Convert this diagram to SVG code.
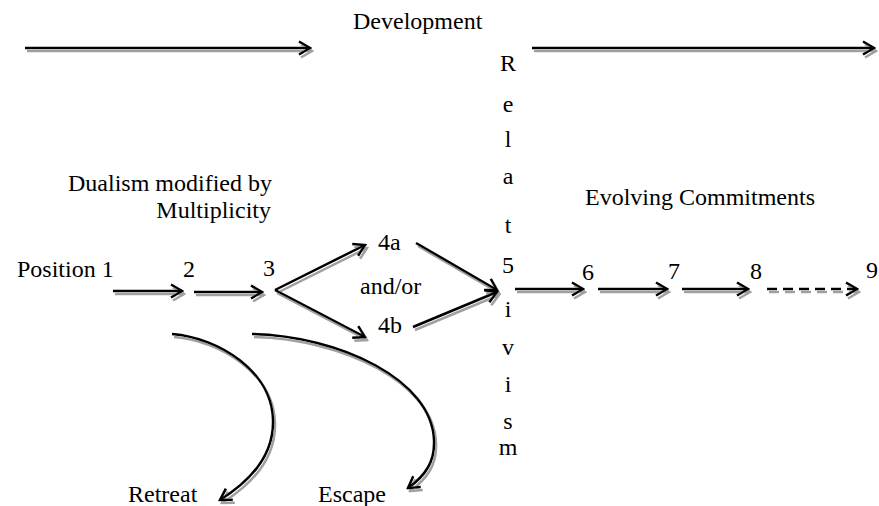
<svg xmlns="http://www.w3.org/2000/svg" width="879" height="506" viewBox="0 0 879 506">
<style>
text{font-family:"Liberation Serif","Times New Roman",serif;font-size:24px;fill:#000}
.c{text-anchor:middle}
.e{text-anchor:end}
.ln{fill:none;stroke:#000;stroke-width:2.5;marker-end:url(#ah)}
.d{stroke-dasharray:10 6}
</style>
<defs>
<marker id="ah" markerUnits="userSpaceOnUse" viewBox="-14 -9 16 18" markerWidth="16" markerHeight="18" refX="0" refY="0" orient="auto">
<path d="M-11,-6.5 L0,0 L-11,6.5" fill="none" stroke="#000" stroke-width="2.5"/>
</marker>
<filter id="sh" filterUnits="userSpaceOnUse" x="0" y="0" width="879" height="506">
<feOffset in="SourceAlpha" dx="1.5" dy="3" result="o"/>
<feFlood flood-color="#a0a0a0"/>
<feComposite in2="o" operator="in" result="s"/>
<feMerge><feMergeNode in="s"/><feMergeNode in="SourceGraphic"/></feMerge>
</filter>
</defs>
<rect width="879" height="506" fill="#fff"/>
<g id="connectors" filter="url(#sh)">
<path class="ln" d="M25,48 L310,48"/>
<path class="ln" d="M532,48 L874,48"/>
<path class="ln" d="M113,291 L182,291"/>
<path class="ln" d="M194,292 L262,292"/>
<path class="ln" d="M275,290 L365,245"/>
<path class="ln" d="M275,290 L365,337"/>
<path class="ln" d="M416,243 L497,290"/>
<path class="ln" d="M413,327 L497,292"/>
<path class="ln" d="M515,289 L583,289"/>
<path class="ln" d="M598,289 L667,289"/>
<path class="ln" d="M682,289 L748,289"/>
<path class="ln d" d="M767,289 L857,289"/>
<path class="ln" d="M172,334 C220,338 272,372 273,420 C274,455 252,480 220,500"/>
<path class="ln" d="M252,334 C340,336 432,380 434,440 C435,462 425,476 408,488"/>
</g>
<g id="development"><text x="353" y="29">Development</text></g>
<g id="dualism"><text class="e" x="272" y="191">Dualism modified by</text><text class="e" x="271" y="218">Multiplicity</text></g>
<g id="evolving"><text x="585" y="205">Evolving Commitments</text></g>
<g id="relativism">
<text class="c" x="508" y="71">R</text>
<text class="c" x="508" y="112">e</text>
<text class="c" x="508" y="147">l</text>
<text class="c" x="508" y="184">a</text>
<text class="c" x="508" y="233">t</text>
<text class="c" x="508" y="273">5</text>
<text class="c" x="508" y="317">i</text>
<text class="c" x="508" y="355">v</text>
<text class="c" x="508" y="392">i</text>
<text class="c" x="508" y="429">s</text>
<text class="c" x="508" y="455">m</text>
</g>
<g id="p1"><text x="17" y="277">Position 1</text></g>
<g id="p2"><text x="183" y="277">2</text></g>
<g id="p3"><text x="263" y="276">3</text></g>
<g id="p4a"><text x="378" y="250">4a</text></g>
<g id="andor"><text x="360" y="294">and/or</text></g>
<g id="p4b"><text x="378" y="333">4b</text></g>
<g id="p6"><text x="582" y="280">6</text></g>
<g id="p7"><text x="668" y="279">7</text></g>
<g id="p8"><text x="750" y="279">8</text></g>
<g id="p9"><text x="866" y="278">9</text></g>
<g id="retreat"><text x="128" y="502">Retreat</text></g>
<g id="escape"><text x="318" y="502">Escape</text></g>
</svg>
